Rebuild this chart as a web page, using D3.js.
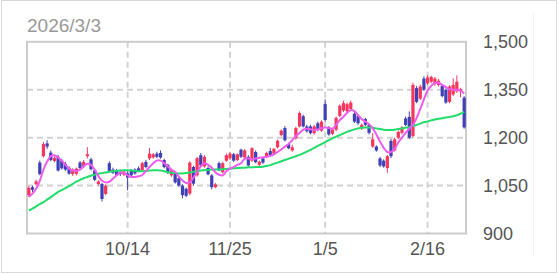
<!DOCTYPE html>
<html>
<head>
<meta charset="utf-8">
<script src="https://cdn.jsdelivr.net/npm/d3@7"></script>
<style>
  html, body { margin: 0; padding: 0; background: #fff; }
  svg { display: block; }
</style>
</head>
<body>
<div id="chart"></div>
<script>
// trading days, 2025/9/2 .. 2026/3/3
const dates = ('9/2 9/3 9/4 9/5 9/8 9/9 9/10 9/11 9/12 9/16 9/17 9/18 9/19 9/22 9/24 9/25 9/26 9/29 9/30 ' +
  '10/1 10/2 10/3 10/6 10/7 10/8 10/9 10/10 10/14 10/15 10/16 10/17 10/20 10/21 10/22 10/23 10/24 10/27 10/28 10/29 10/30 10/31 ' +
  '11/4 11/5 11/6 11/7 11/10 11/11 11/12 11/13 11/14 11/17 11/18 11/19 11/20 11/21 11/25 11/26 11/27 11/28 ' +
  '12/1 12/2 12/3 12/4 12/5 12/8 12/9 12/10 12/11 12/12 12/15 12/16 12/17 12/18 12/19 12/22 12/23 12/24 12/25 12/26 12/29 12/30 ' +
  '1/5 1/6 1/7 1/8 1/9 1/13 1/14 1/15 1/16 1/19 1/20 1/21 1/22 1/23 1/26 1/27 1/28 1/29 1/30 ' +
  '2/2 2/3 2/4 2/5 2/6 2/9 2/10 2/12 2/13 2/16 2/17 2/18 2/19 2/20 2/24 2/25 2/26 2/27 3/2 3/3').split(' ');

const open = [1020,1045,1054,1122,1142,1182,1153,1127,1140,1128,1118,1106,1086,1087,1122,1110,1142,1132,1098,1055,
  1055,1024,1120,1100,1098,1092,1084,1088,1098,1100,1104,1098,1124,1135,1138,1150,1152,1130,1115,1082,
  1090,1073,1050,1040,1025,1108,1082,1145,1110,1105,1082,1045,1120,1092,1128,1135,1148,1130,1162,1138,
  1140,1128,1155,1115,1135,1140,1158,1150,1170,1208,1230,1180,1160,1198,1235,1267,1235,1235,1214,1245,
  1222,1305,1232,1212,1225,1268,1285,1282,1290,1275,1268,1228,1258,1240,1172,1172,1135,1128,1105,1190,
  1160,1200,1215,1260,1265,1205,1355,1322,1385,1370,1375,1368,1365,1362,1350,1312,1335,1345,1345,1325];
const high = [1048,1050,1068,1128,1186,1192,1160,1142,1146,1134,1124,1110,1104,1106,1127,1130,1170,1137,1102,1067,
  1058,1054,1126,1106,1102,1100,1098,1095,1102,1104,1110,1124,1130,1168,1152,1156,1160,1134,1118,1102,
  1094,1076,1054,1044,1126,1112,1140,1152,1145,1110,1086,1058,1125,1124,1150,1154,1152,1150,1166,1164,
  1145,1170,1160,1128,1140,1156,1168,1168,1194,1226,1236,1184,1178,1234,1282,1272,1240,1240,1240,1250,
  1254,1320,1236,1228,1266,1304,1316,1310,1316,1280,1272,1244,1262,1244,1214,1176,1140,1132,1146,1196,
  1200,1222,1236,1266,1282,1372,1362,1366,1392,1395,1394,1390,1384,1366,1354,1364,1385,1395,1356,1330];
const low = [1015,1030,1050,1082,1138,1165,1126,1122,1094,1100,1096,1084,1080,1082,1100,1106,1135,1098,1064,1050,
  1000,1020,1092,1086,1080,1080,1080,1035,1078,1084,1092,1095,1104,1130,1134,1136,1134,1104,1086,1078,
  1056,1046,1010,1014,1020,1050,1078,1110,1106,1082,1038,1042,1095,1088,1124,1130,1124,1126,1136,1134,
  1110,1124,1120,1110,1118,1136,1142,1146,1166,1204,1188,1164,1156,1194,1232,1232,1216,1210,1210,1220,
  1218,1250,1206,1208,1220,1264,1280,1278,1286,1246,1240,1224,1236,1210,1168,1156,1108,1106,1090,1136,
  1156,1196,1210,1236,1196,1200,1308,1318,1346,1365,1370,1362,1360,1326,1306,1308,1330,1340,1326,1228];
const close = [1043,1037,1063,1086,1180,1172,1130,1137,1097,1104,1100,1087,1100,1103,1105,1124,1148,1101,1068,1063,
  1008,1050,1096,1090,1083,1086,1094,1075,1082,1088,1096,1120,1108,1150,1148,1140,1138,1108,1090,1098,
  1060,1050,1020,1018,1122,1056,1136,1113,1140,1085,1045,1054,1098,1120,1145,1150,1128,1148,1140,1160,
  1113,1167,1123,1125,1122,1152,1145,1165,1190,1222,1192,1167,1170,1230,1277,1235,1220,1214,1235,1224,
  1250,1255,1210,1225,1262,1300,1308,1305,1310,1250,1245,1240,1240,1215,1195,1160,1113,1110,1142,1142,
  1195,1218,1232,1240,1200,1365,1312,1360,1350,1388,1390,1385,1378,1330,1310,1360,1365,1375,1352,1232];

// moving averages (short / long)
const ma5 = [1015,1025,1040,1065,1100,1125,1142,1145,1138,1128,1115,1103,1097,1096,1100,1110,1118,1115,1100,1080,
  1065,1060,1062,1072,1082,1090,1090,1082,1077,1077,1079,1083,1095,1108,1120,1128,1128,1120,1110,1100,
  1093,1078,1066,1058,1060,1075,1093,1110,1120,1115,1106,1092,1084,1082,1095,1103,1108,1115,1120,1134,
  1135,1133,1135,1137,1138,1140,1143,1148,1155,1163,1172,1180,1192,1205,1215,1225,1228,1226,1224,1226,
  1230,1232,1230,1228,1240,1255,1265,1278,1286,1283,1270,1258,1250,1242,1230,1210,1188,1168,1155,1155,
  1165,1185,1200,1215,1228,1240,1262,1290,1320,1348,1362,1372,1372,1365,1358,1352,1350,1350,1348,1338];
const ma25 = [972,978,985,992,998,1006,1014,1022,1030,1036,1042,1048,1055,1062,1068,1073,1077,1081,1084,1087,
  1089,1091,1093,1095,1096,1097,1098,1098,1097,1096,1095,1095,1096,1097,1098,1098,1097,1095,1092,1090,
  1089,1088,1088,1089,1091,1093,1095,1097,1098,1099,1100,1100,1100,1101,1102,1103,1104,1105,1106,1106,
  1107,1107,1108,1108,1109,1111,1114,1118,1122,1126,1130,1134,1138,1142,1146,1151,1156,1162,1168,1174,
  1180,1186,1192,1198,1203,1208,1213,1218,1222,1226,1229,1231,1232,1232,1231,1229,1227,1225,1224,1224,
  1225,1227,1229,1231,1233,1236,1240,1244,1248,1251,1254,1257,1259,1261,1263,1265,1267,1270,1275,1281];

const xTicks = ['10/14', '11/25', '1/5', '2/16'];
const yTicks = [900, 1050, 1200, 1350, 1500];
const title = '2026/3/3';

const width = 559, height = 274;
const plot = { left: 27, right: 466, top: 41.8, bottom: 233.5 };
const upColor = '#f7365d', downColor = '#4040b6';

const svg = d3.select('#chart').append('svg')
  .attr('width', width)
  .attr('height', height);

// outer frame
svg.append('rect')
  .attr('x', 1.5).attr('y', 0.5)
  .attr('width', 555).attr('height', 272)
  .attr('fill', 'none')
  .attr('stroke', '#d9d9d9');

svg.append('line')
  .attr('x1', 533.5).attr('x2', 533.5)
  .attr('y1', 13).attr('y2', 257)
  .attr('stroke', '#f3f3f3');

const x = d3.scaleBand()
  .domain(dates)
  .range([plot.left, plot.right])
  .paddingInner(0.12)
  .paddingOuter(0.06);

const y = d3.scaleLinear()
  .domain([900, 1500])
  .range([plot.bottom, plot.top]);

const xc = d => x(d) + x.bandwidth() / 2;

// grid
svg.append('g')
  .selectAll('line')
  .data(yTicks.filter(v => v > 900 && v < 1500))
  .join('line')
  .attr('x1', plot.left).attr('x2', plot.right)
  .attr('y1', d => y(d)).attr('y2', d => y(d))
  .attr('stroke', '#d2d2d2')
  .attr('stroke-width', 2)
  .attr('stroke-dasharray', '6,4');

svg.append('g')
  .selectAll('line')
  .data(xTicks)
  .join('line')
  .attr('x1', d => xc(d)).attr('x2', d => xc(d))
  .attr('y1', plot.top).attr('y2', plot.bottom)
  .attr('stroke', '#d2d2d2')
  .attr('stroke-width', 2)
  .attr('stroke-dasharray', '6,4');

svg.append('rect')
  .attr('x', plot.left).attr('y', plot.top)
  .attr('width', plot.right - plot.left)
  .attr('height', plot.bottom - plot.top)
  .attr('fill', 'none')
  .attr('stroke', '#cccccc')
  .attr('stroke-width', 2);

// candles
const candles = dates.map((d, i) => ({
  date: d, o: open[i], h: high[i], l: low[i], c: close[i]
}));

const cg = svg.append('g');
cg.selectAll('line')
  .data(candles)
  .join('line')
  .attr('x1', d => xc(d.date)).attr('x2', d => xc(d.date))
  .attr('y1', d => y(d.h)).attr('y2', d => y(d.l))
  .attr('stroke', d => d.c >= d.o ? upColor : downColor)
  .attr('stroke-width', 1);

cg.selectAll('rect')
  .data(candles)
  .join('rect')
  .attr('x', d => x(d.date))
  .attr('width', x.bandwidth())
  .attr('y', d => y(Math.max(d.o, d.c)))
  .attr('height', d => Math.max(1, Math.abs(y(d.o) - y(d.c))))
  .attr('fill', d => d.c >= d.o ? upColor : downColor);

// moving averages
const line = d3.line()
  .x((d, i) => xc(dates[i]))
  .y(d => y(d))
  .curve(d3.curveCatmullRom);

svg.append('path')
  .datum(ma25)
  .attr('d', line)
  .attr('fill', 'none')
  .attr('stroke', '#22dd6a')
  .attr('stroke-width', 2);

svg.append('path')
  .datum(ma5)
  .attr('d', line)
  .attr('fill', 'none')
  .attr('stroke', '#ee5cee')
  .attr('stroke-width', 2);

// axes labels
svg.append('g')
  .selectAll('text')
  .data(yTicks)
  .join('text')
  .attr('x', 483)
  .attr('y', d => y(d))
  .attr('dy', '0.35em')
  .attr('font-family', 'Liberation Sans, Arial, sans-serif')
  .attr('font-size', 18)
  .attr('fill', '#555')
  .text(d => d3.format(',')(d));

svg.append('g')
  .selectAll('text')
  .data(xTicks)
  .join('text')
  .attr('x', d => xc(d))
  .attr('y', 255)
  .attr('text-anchor', 'middle')
  .attr('font-family', 'Liberation Sans, Arial, sans-serif')
  .attr('font-size', 18)
  .attr('fill', '#555')
  .text(d => d);

svg.append('text')
  .attr('x', 27)
  .attr('y', 31.5)
  .attr('font-family', 'Liberation Sans, Arial, sans-serif')
  .attr('font-size', 19)
  .attr('fill', '#999')
  .text(title);
</script>
</body>
</html>
